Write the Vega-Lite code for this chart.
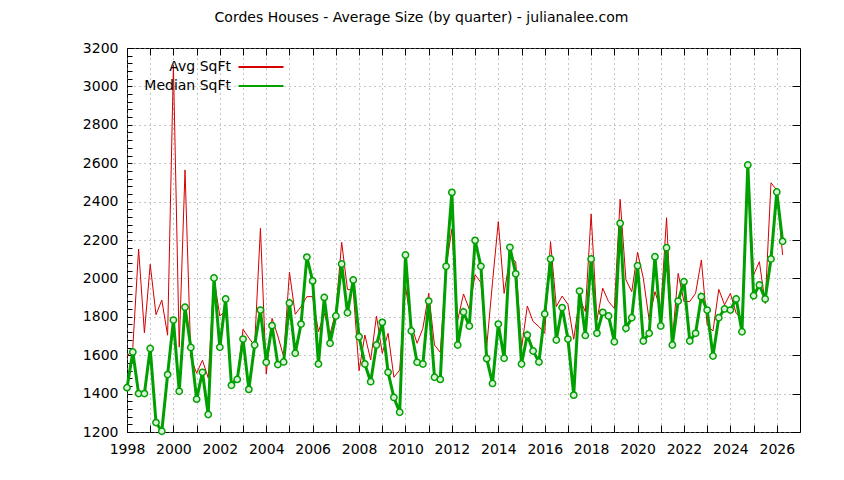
{
  "$schema": "https://vega.github.io/schema/vega-lite/v6.json",
  "width": 673,
  "height": 384,
  "autosize": "none",
  "padding": {"left": 127, "top": 48, "right": 44, "bottom": 48},
  "background": "white",
  "title": {"text": "Cordes Houses - Average Size (by quarter) - julianalee.com", "font": "DejaVu Sans", "fontSize": 14, "fontWeight": "normal", "color": "black", "anchor": "middle", "frame": "group", "dx": -42, "offset": 16},
  "config": {
    "view": {"stroke": "black", "strokeWidth": 1},
    "axis": {"labelFont": "DejaVu Sans", "labelFontSize": 14, "labelColor": "black", "tickColor": "black", "domain": false, "title": null, "labelOverlap": false, "labelFlush": false}
  },
  "data": {"values": [
    {"t": 1998.00, "avg": 1590, "median": 1431},
    {"t": 1998.25, "avg": 1640, "median": 1617},
    {"t": 1998.50, "avg": 2153, "median": 1400},
    {"t": 1998.75, "avg": 1717, "median": 1400},
    {"t": 1999.00, "avg": 2073, "median": 1635},
    {"t": 1999.25, "avg": 1811, "median": 1249},
    {"t": 1999.50, "avg": 1887, "median": 1204},
    {"t": 1999.75, "avg": 1704, "median": 1499},
    {"t": 2000.00, "avg": 3110, "median": 1783},
    {"t": 2000.25, "avg": 1642, "median": 1412},
    {"t": 2000.50, "avg": 2565, "median": 1850},
    {"t": 2000.75, "avg": 1590, "median": 1640},
    {"t": 2001.00, "avg": 1506, "median": 1371},
    {"t": 2001.25, "avg": 1574, "median": 1511},
    {"t": 2001.50, "avg": 1482, "median": 1291},
    {"t": 2001.75, "avg": 2000, "median": 2002},
    {"t": 2002.00, "avg": 1804, "median": 1641},
    {"t": 2002.25, "avg": 1832, "median": 1893},
    {"t": 2002.50, "avg": 1460, "median": 1443},
    {"t": 2002.75, "avg": 1475, "median": 1474},
    {"t": 2003.00, "avg": 1735, "median": 1684},
    {"t": 2003.25, "avg": 1690, "median": 1422},
    {"t": 2003.50, "avg": 1650, "median": 1653},
    {"t": 2003.75, "avg": 2261, "median": 1835},
    {"t": 2004.00, "avg": 1502, "median": 1563},
    {"t": 2004.25, "avg": 1792, "median": 1754},
    {"t": 2004.50, "avg": 1700, "median": 1551},
    {"t": 2004.75, "avg": 1592, "median": 1565},
    {"t": 2005.00, "avg": 2032, "median": 1872},
    {"t": 2005.25, "avg": 1813, "median": 1610},
    {"t": 2005.50, "avg": 1853, "median": 1762},
    {"t": 2005.75, "avg": 1905, "median": 2111},
    {"t": 2006.00, "avg": 1905, "median": 1987},
    {"t": 2006.25, "avg": 1722, "median": 1554},
    {"t": 2006.50, "avg": 1818, "median": 1901},
    {"t": 2006.75, "avg": 1710, "median": 1662},
    {"t": 2007.00, "avg": 1827, "median": 1804},
    {"t": 2007.25, "avg": 2188, "median": 2075},
    {"t": 2007.50, "avg": 1943, "median": 1821},
    {"t": 2007.75, "avg": 1936, "median": 1992},
    {"t": 2008.00, "avg": 1519, "median": 1696},
    {"t": 2008.25, "avg": 1705, "median": 1554},
    {"t": 2008.50, "avg": 1575, "median": 1462},
    {"t": 2008.75, "avg": 1804, "median": 1653},
    {"t": 2009.00, "avg": 1610, "median": 1771},
    {"t": 2009.25, "avg": 1714, "median": 1511},
    {"t": 2009.50, "avg": 1485, "median": 1380},
    {"t": 2009.75, "avg": 1523, "median": 1303},
    {"t": 2010.00, "avg": 1960, "median": 2122},
    {"t": 2010.25, "avg": 1757, "median": 1726},
    {"t": 2010.50, "avg": 1662, "median": 1563},
    {"t": 2010.75, "avg": 1740, "median": 1554},
    {"t": 2011.00, "avg": 1922, "median": 1882},
    {"t": 2011.25, "avg": 1653, "median": 1485},
    {"t": 2011.50, "avg": 1615, "median": 1474},
    {"t": 2011.75, "avg": 2060, "median": 2063},
    {"t": 2012.00, "avg": 2257, "median": 2448},
    {"t": 2012.25, "avg": 1783, "median": 1653},
    {"t": 2012.50, "avg": 1919, "median": 1825},
    {"t": 2012.75, "avg": 1839, "median": 1752},
    {"t": 2013.00, "avg": 2019, "median": 2198},
    {"t": 2013.25, "avg": 1978, "median": 2063},
    {"t": 2013.50, "avg": 1644, "median": 1582},
    {"t": 2013.75, "avg": 1980, "median": 1453},
    {"t": 2014.00, "avg": 2296, "median": 1762},
    {"t": 2014.25, "avg": 1922, "median": 1584},
    {"t": 2014.50, "avg": 2110, "median": 2162},
    {"t": 2014.75, "avg": 2087, "median": 2024},
    {"t": 2015.00, "avg": 1636, "median": 1554},
    {"t": 2015.25, "avg": 1856, "median": 1705},
    {"t": 2015.50, "avg": 1775, "median": 1622},
    {"t": 2015.75, "avg": 1749, "median": 1565},
    {"t": 2016.00, "avg": 1714, "median": 1815},
    {"t": 2016.25, "avg": 2191, "median": 2101},
    {"t": 2016.50, "avg": 1853, "median": 1679},
    {"t": 2016.75, "avg": 1908, "median": 1848},
    {"t": 2017.00, "avg": 1865, "median": 1684},
    {"t": 2017.25, "avg": 1683, "median": 1392},
    {"t": 2017.50, "avg": 1896, "median": 1934},
    {"t": 2017.75, "avg": 1827, "median": 1703},
    {"t": 2018.00, "avg": 2335, "median": 2101},
    {"t": 2018.25, "avg": 1783, "median": 1714},
    {"t": 2018.50, "avg": 1949, "median": 1823},
    {"t": 2018.75, "avg": 1879, "median": 1804},
    {"t": 2019.00, "avg": 1844, "median": 1670},
    {"t": 2019.25, "avg": 2412, "median": 2287},
    {"t": 2019.50, "avg": 1992, "median": 1740},
    {"t": 2019.75, "avg": 1931, "median": 1795},
    {"t": 2020.00, "avg": 2136, "median": 2066},
    {"t": 2020.25, "avg": 2000, "median": 1674},
    {"t": 2020.50, "avg": 1783, "median": 1714},
    {"t": 2020.75, "avg": 1931, "median": 2113},
    {"t": 2021.00, "avg": 1835, "median": 1752},
    {"t": 2021.25, "avg": 2316, "median": 2160},
    {"t": 2021.50, "avg": 1679, "median": 1653},
    {"t": 2021.75, "avg": 2026, "median": 1882},
    {"t": 2022.00, "avg": 1879, "median": 1983},
    {"t": 2022.25, "avg": 1880, "median": 1674},
    {"t": 2022.50, "avg": 1922, "median": 1714},
    {"t": 2022.75, "avg": 2096, "median": 1905},
    {"t": 2023.00, "avg": 1757, "median": 1835},
    {"t": 2023.25, "avg": 1726, "median": 1596},
    {"t": 2023.50, "avg": 1943, "median": 1795},
    {"t": 2023.75, "avg": 1862, "median": 1841},
    {"t": 2024.00, "avg": 1922, "median": 1835},
    {"t": 2024.25, "avg": 1818, "median": 1893},
    {"t": 2024.50, "avg": 1792, "median": 1722},
    {"t": 2024.75, "avg": 2590, "median": 2591},
    {"t": 2025.00, "avg": 2018, "median": 1910},
    {"t": 2025.25, "avg": 2087, "median": 1966},
    {"t": 2025.50, "avg": 1870, "median": 1893},
    {"t": 2025.75, "avg": 2498, "median": 2101},
    {"t": 2026.00, "avg": 2460, "median": 2450},
    {"t": 2026.25, "avg": 2122, "median": 2193}
  ]},
  "resolve": {"axis": {"x": "independent", "y": "independent"}},
  "layer": [
    {
      "mark": {"type": "line", "strokeWidth": 1},
      "encoding": {
        "x": {"field": "t", "type": "quantitative",
          "scale": {"domain": [1998, 2027], "nice": false, "zero": false},
          "axis": {"orient": "bottom", "values": [1998,1999,2000,2001,2002,2003,2004,2005,2006,2007,2008,2009,2010,2011,2012,2013,2014,2015,2016,2017,2018,2019,2020,2021,2022,2023,2024,2025,2026],
            "format": "d", "labelExpr": "datum.value % 2 == 0 ? datum.label : ''",
            "tickSize": -7, "labelPadding": 17, "grid": true, "gridDash": [1, 4], "gridColor": "#8c8c8c", "gridWidth": 1}},
        "y": {"field": "avg", "type": "quantitative",
          "scale": {"domain": [1200, 3200], "nice": false, "zero": false},
          "axis": {"orient": "left", "values": [1200,1240,1280,1320,1360,1400,1440,1480,1520,1560,1600,1640,1680,1720,1760,1800,1840,1880,1920,1960,2000,2040,2080,2120,2160,2200,2240,2280,2320,2360,2400,2440,2480,2520,2560,2600,2640,2680,2720,2760,2800,2840,2880,2920,2960,3000,3040,3080,3120,3160,3200],
            "format": "d", "labelExpr": "datum.value % 200 == 0 ? datum.label : ''",
            "tickSize": -5, "labelPadding": 14, "grid": false}},
        "color": {"datum": "Avg SqFt", "type": "nominal",
          "scale": {"domain": ["Avg SqFt", "Median SqFt"], "range": ["#d40000", "#00a000"]},
          "legend": {"orient": "none", "legendX": 127, "legendY": 12, "title": null,
            "labelFont": "DejaVu Sans", "labelFontSize": 14, "labelColor": "black",
            "labelAlign": "right", "labelOffset": -37, "symbolSize": 100, "symbolType": "M-4.5,0H4.5",
            "symbolStrokeWidth": 2, "rowPadding": 5, "padding": 0}}
      }
    },
    {
      "mark": {"type": "line", "strokeWidth": 3},
      "encoding": {
        "x": {"field": "t", "type": "quantitative",
          "axis": {"orient": "top", "values": [1998,1999,2000,2001,2002,2003,2004,2005,2006,2007,2008,2009,2010,2011,2012,2013,2014,2015,2016,2017,2018,2019,2020,2021,2022,2023,2024,2025,2026],
            "labels": false, "tickSize": -7, "grid": false}},
        "y": {"field": "median", "type": "quantitative",
          "axis": {"orient": "right", "values": [1200,1400,1600,1800,2000,2200,2400,2600,2800,3000,3200],
            "labels": false, "tickSize": -8, "grid": true, "gridDash": [1, 4], "gridColor": "#8c8c8c", "gridWidth": 1}},
        "color": {"datum": "Median SqFt", "type": "nominal"}
      }
    },
    {
      "mark": {"type": "point", "filled": true, "fill": "#d8f2d8", "stroke": "#00a000", "strokeWidth": 1.5, "size": 40, "opacity": 1},
      "encoding": {
        "x": {"field": "t", "type": "quantitative", "axis": null},
        "y": {"field": "median", "type": "quantitative", "axis": null}
      }
    }
  ]
}
